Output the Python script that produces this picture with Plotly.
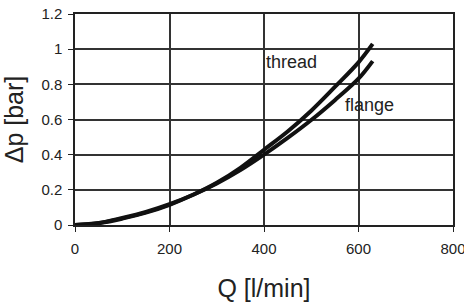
import plotly.graph_objects as go

Q = [0, 50, 100, 150, 200, 250, 300, 350, 400, 450, 500, 550, 600, 630]
dp_thread = [0.0, 0.010, 0.036, 0.070, 0.115, 0.172, 0.240, 0.325, 0.428, 0.532, 0.650, 0.785, 0.925, 1.03]
dp_flange = [0.0, 0.011, 0.040, 0.074, 0.118, 0.172, 0.236, 0.312, 0.400, 0.495, 0.597, 0.710, 0.832, 0.932]
x_ticks = [0, 200, 400, 600, 800]
y_ticks = [0, 0.2, 0.4, 0.6, 0.8, 1.0, 1.2]
y_tick_labels = ["0", "0.2", "0.4", "0.6", "0.8", "1", "1.2"]

font = "Liberation Sans, Arial, sans-serif"

fig = go.Figure()
fig.add_trace(go.Scatter(x=Q, y=dp_thread, mode="lines", line=dict(color="#111", width=4, shape="spline"), name="thread"))
fig.add_trace(go.Scatter(x=Q, y=dp_flange, mode="lines", line=dict(color="#111", width=4, shape="spline"), name="flange"))

fig.add_annotation(x=459, y=0.925, text="thread", showarrow=False, font=dict(family=font, size=18, color="#222"))
fig.add_annotation(x=624, y=0.685, text="flange", showarrow=False, font=dict(family=font, size=18, color="#222"))

fig.update_layout(
    width=464, height=307,
    margin=dict(l=75, r=11, t=14, b=82, autoexpand=False),
    paper_bgcolor="white", plot_bgcolor="white",
    showlegend=False,
    font=dict(family=font, color="#222"),
    xaxis=dict(range=[0, 800], tickvals=x_ticks, showgrid=True, gridcolor="#333", gridwidth=1.5,
               showline=True, linecolor="#222", linewidth=1.5, mirror=True, automargin=False,
               ticks="outside", ticklen=5, tickcolor="#222", tickfont=dict(size=15, family=font, color="#222"),
               ticklabeloverflow="allow", ticklabelstandoff=4,
               title=dict(text="Q [l/min]", font=dict(size=25, family=font, color="#222"), standoff=24),
               zeroline=False),
    yaxis=dict(range=[0, 1.2], tickvals=y_ticks, ticktext=y_tick_labels, showgrid=True, gridcolor="#333", gridwidth=1.5,
               showline=True, linecolor="#222", linewidth=1.5, mirror=True, automargin=False,
               ticks="outside", ticklen=5, tickcolor="#222", tickfont=dict(size=15, family=font, color="#222"),
               ticklabelstandoff=3,
               title=dict(text="Δp [bar]", font=dict(size=25, family=font, color="#222"), standoff=14),
               zeroline=False),
)

fig.write_html("out.html", config={"displayModeBar": False}, post_script="document.body.style.margin='0px';")
